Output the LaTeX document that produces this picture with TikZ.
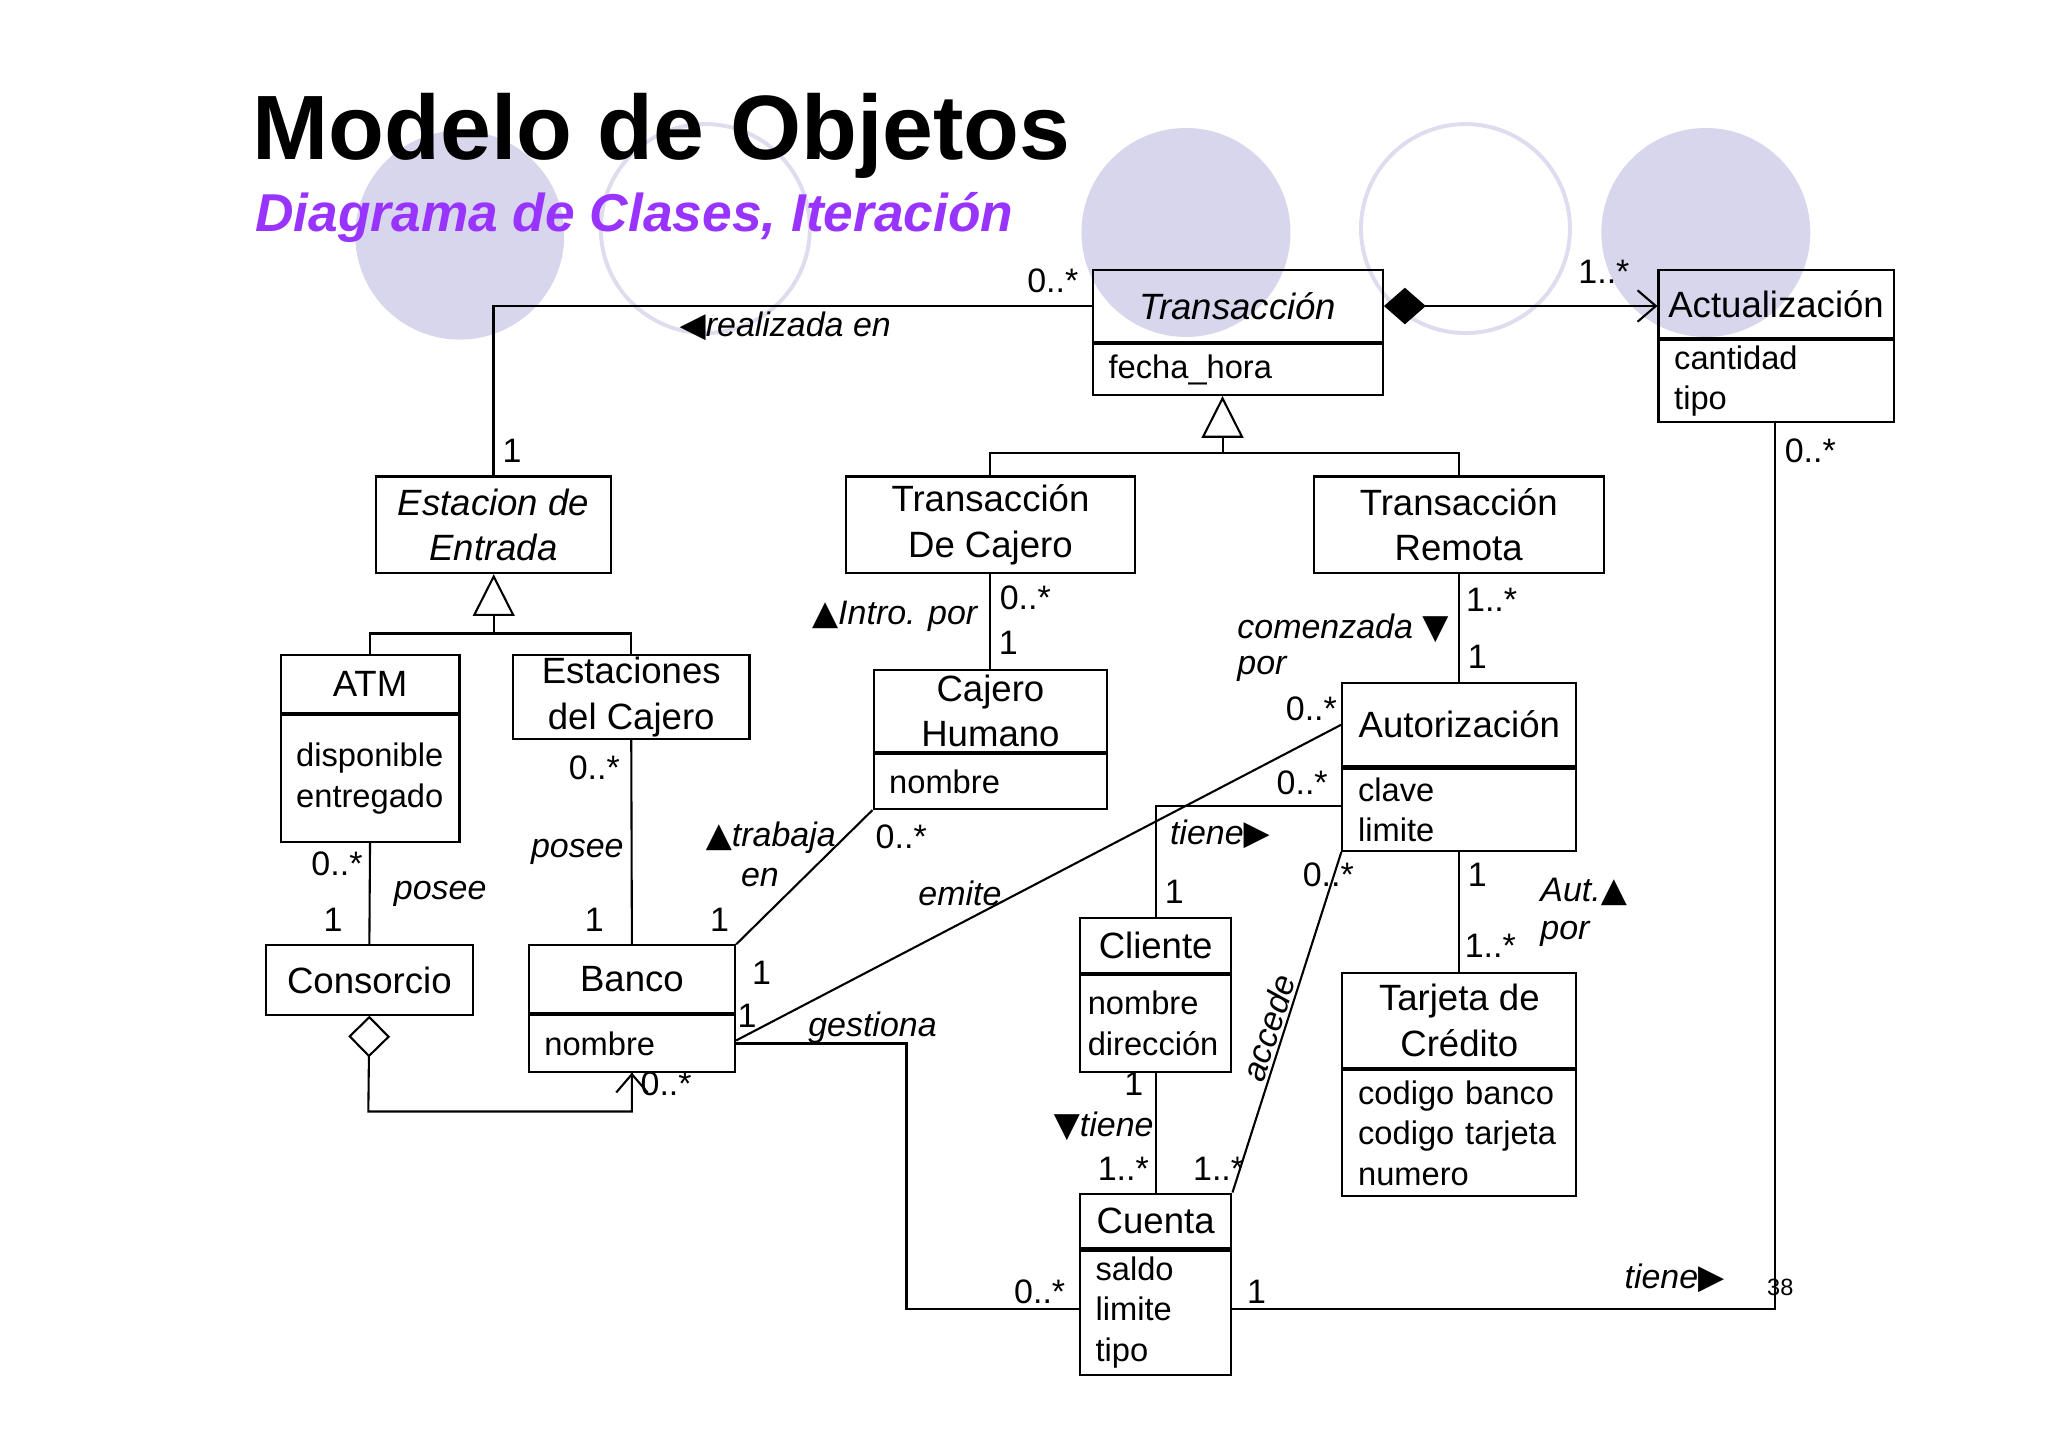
\documentclass[tikz,border=0pt]{standalone}
\usepackage{fontspec}
\setmainfont{Liberation Sans}
\newfontfamily\symf{DejaVu Sans}
\usetikzlibrary{arrows.meta}
\definecolor{lav}{RGB}{216,214,236}
\definecolor{lavline}{RGB}{222,220,238}
\definecolor{subpurple}{RGB}{153,51,255}
\newcommand{\up}{{\symf\char"25B2}}
\newcommand{\dn}{{\symf\char"25BC}}
\newcommand{\rt}{{\symf\char"25B6}}
\newcommand{\lf}{{\symf\char"25C0}}
\tikzset{
  cls/.style={draw, line width=0.8pt, inner sep=0pt, align=center, anchor=north west,
    font=\fontsize{14}{17.5}\selectfont},
  attr/.style={draw, line width=0.8pt, inner xsep=6pt, inner ysep=0pt, align=left, anchor=north,
    font=\fontsize{12.5}{15.5}\selectfont},
  lab/.style={inner sep=1pt, font=\fontsize{13}{15.5}\selectfont\itshape},
  mult/.style={inner sep=1pt, font=\fontsize{13}{15.5}\selectfont},
  conn/.style={line width=0.8pt}
}
\begin{document}
\begin{tikzpicture}[x=0.5pt, y=-0.5pt]
	\useasboundingbox[fill=white] (0,0) rectangle (1568,1108);

	%% decoration
	\fill[lav] (352,180) circle[radius=40pt];
	\draw[lavline, line width=1.5pt] (540,175) circle[radius=40pt];
	\fill[lav] (908,178) circle[radius=40pt];
	\draw[lavline, line width=1.5pt] (1122,175) circle[radius=40pt];
	\fill[lav] (1306,178) circle[radius=40pt];

	%% titles
	\node[anchor=base west, inner sep=0pt, font=\fontsize{35}{40}\selectfont\bfseries] (title) at (193,122) {Modelo de Objetos};
	\node[anchor=base west, inner sep=0pt, font=\fontsize{20.4}{24}\selectfont\bfseries\itshape, text=subpurple] (subtitle) at (195,177) {Diagrama de Clases, Iteración};
	\node[mult, font=\fontsize{9}{10}\selectfont] (page) at (1363,986) {38};

	%% classes
	\node[cls, minimum width=111pt, minimum height=27.5pt] (tr) at (836,206) {\itshape Transacción};
	\node[attr, text width=99pt, minimum height=19.5pt] (trA) at (tr.south) {fecha\_hora};
	\node[cls, minimum width=90pt, minimum height=26pt] (act) at (1269,206) {Actualización};
	\node[attr, text width=78pt, minimum height=31.5pt] (actA) at (act.south) {cantidad\\tipo};
	\node[cls, minimum width=90pt, minimum height=37pt] (est) at (287,364) {\itshape Estacion de\\\itshape Entrada};
	\node[cls, minimum width=110.5pt, minimum height=37pt] (tcj) at (647,364) {Transacción\\De Cajero};
	\node[cls, minimum width=111pt, minimum height=37pt] (trm) at (1005,364) {Transacción\\Remota};
	\node[cls, minimum width=68.5pt, minimum height=22pt] (atm) at (214,501) {ATM};
	\node[attr, text width=56.5pt, minimum height=48.5pt] (atmA) at (atm.south) {disponible\\entregado};
	\node[cls, minimum width=90.5pt, minimum height=32pt] (ecj) at (392,501) {Estaciones\\del Cajero};
	\node[cls, minimum width=89.5pt, minimum height=31.5pt] (chu) at (668,512) {Cajero\\Humano};
	\node[attr, text width=77.5pt, minimum height=21pt] (chuA) at (chu.south) {nombre};
	\node[cls, minimum width=89.5pt, minimum height=32pt] (aut) at (1027,522) {Autorización};
	\node[attr, text width=77.5pt, minimum height=31.5pt] (autA) at (aut.south) {clave\\limite};
	\node[cls, minimum width=79pt, minimum height=26.5pt] (con) at (203,723) {Consorcio};
	\node[cls, minimum width=79pt, minimum height=26pt] (ban) at (404,723) {Banco};
	\node[attr, text width=67pt, minimum height=21.5pt] (banA) at (ban.south) {nombre};
	\node[cls, minimum width=58pt, minimum height=21pt] (cli) at (826,702) {Cliente};
	\node[attr, text width=52pt, inner xsep=3pt, minimum height=37pt] (cliA) at (cli.south) {nombre\\dirección};
	\node[cls, minimum width=89.5pt, minimum height=36.5pt] (tjc) at (1027,744) {Tarjeta de\\Crédito};
	\node[attr, text width=81.5pt, inner xsep=4pt, minimum height=48pt] (tjcA) at (tjc.south) {\hspace*{2pt}codigo banco\\\hspace*{2pt}codigo tarjeta\\\hspace*{2pt}numero};
	\node[cls, minimum width=58pt, minimum height=21pt] (cta) at (826,913) {Cuenta};
	\node[attr, text width=46pt, minimum height=47.5pt] (ctaA) at (cta.south) {saldo\\limite\\tipo};

	%% generalizations
	\coordinate (g1) at (936,347);
	\draw[conn] (tcj.north) |- (g1) -| (trm.north);
	\draw[conn, -{Triangle[open, length=16pt, width=16pt]}] (g1) -- (g1 |- trA.south);
	\coordinate (g2) at (378,485);
	\draw[conn] (atm.north) |- (g2) -| (ecj.north);
	\draw[conn, -{Triangle[open, length=16pt, width=16pt]}] (g2) -- (g2 |- est.south);

	%% associations
	\draw[conn] (tr.west) -| (est.north);
	\draw[conn, {Diamond[fill=black, length=16pt, width=14pt]}-{Straight Barb[length=7pt, width=12pt]}] (tr.east) -- (tr.east -| act.west);
	\draw[conn] (atmA.south) -- (con.north);
	\draw[conn] (ecj.south) -- (ban.north);
	\coordinate (c1) at (282,851);
	\draw[conn, {Diamond[open, length=16pt, width=16pt]}-] (con.south) -- (c1) -| (banA.south);
	\draw[conn, -{Straight Barb[length=7pt, width=12pt]}] (c1 -| banA.south) -- (banA.south);
	\draw[conn] (tcj.south) -- (tcj.south |- chu.north);
	\draw[conn] (chuA.south west) -- (ban.north east);
	\draw[conn] (ban.south east) ++(0,20) coordinate (b1) -- (aut.west);
	\draw[conn] (trm.south) -- (trm.south |- aut.north);
	\coordinate (a1) at (1027,617);
	\draw[conn] (a1) -| (cli.north);
	\draw[conn] (autA.south) -- (tjc.north);
	\draw[conn] (autA.south west) -- node[lab, sloped, above, pos=0.53] {accede} (cta.north east);
	\draw[conn] (cliA.south) -- (cta.north);
	\coordinate (d1) at (694,1002);
	\draw[conn] (banA.east) -| (d1) -- (d1 -| ctaA.west);
	\coordinate (d2) at (1359,1002);
	\draw[conn] (d2 -| ctaA.east) -- (d2) -- (actA.south -| d2);

	%% labels
	\node[mult] (m1) at (806,215) {0..*};
	\node[mult] (m2) at (392,345) {1};
	\node[lab, anchor=west] (l1) at (518,250) {\lf realizada en};
	\node[mult] (m3) at (1228,208) {1..*};
	\node[mult] (m4) at (258,661) {0..*};
	\node[mult] (m5) at (255,704) {1};
	\node[lab] (l2) at (337,684) {posee};
	\node[mult] (m6) at (455,588) {0..*};
	\node[lab] (l3) at (442,652) {posee};
	\node[mult] (m7) at (455,704) {1};
	\node[mult] (m8) at (510,830) {0..*};
	\node[mult] (m9) at (785,458) {0..*};
	\node[mult] (m10) at (772,492) {1};
	\node[lab] (l4) at (685,472) {\up Intro. por};
	\node[lab, anchor=west] (l5) at (538,641) {\up trabaja};
	\node[lab, anchor=west] (l5b) at (565,672) {en};
	\node[mult] (m11) at (690,641) {0..*};
	\node[mult] (m12) at (551,704) {1};
	\node[lab] (l6) at (735,684) {emite};
	\node[mult] (m13) at (583,745) {1};
	\node[mult] (m14) at (1004,543) {0..*};
	\node[mult] (m15) at (1142,459) {1..*};
	\node[mult] (m16) at (1131,503) {1};
	\node[lab, anchor=west] (l7) at (945,481) {comenzada \dn};
	\node[lab, anchor=west] (l7b) at (945,512) {por};
	\node[mult] (m17) at (997,599) {0..*};
	\node[lab] (l8) at (934,639) {tiene\rt};
	\node[mult] (m18) at (899,683) {1};
	\node[mult] (m19) at (1131,670) {1};
	\node[mult] (m20) at (1141,724) {1..*};
	\node[lab, anchor=west] (l9) at (1177,683) {Aut.\up};
	\node[lab, anchor=west] (l9b) at (1177,715) {por};
	\node[mult] (m21) at (1017,670) {0..*};
	\node[mult] (m22) at (933,895) {1..*};
	\node[mult] (m23) at (868,830) {1};
	\node[lab] (l10) at (845,862) {\dn tiene};
	\node[mult] (m24) at (860,895) {1..*};
	\node[mult] (m25) at (572,778) {1};
	\node[lab] (l11) at (668,787) {gestiona};
	\node[mult] (m26) at (796,989) {0..*};
	\node[mult] (m27) at (962,989) {1};
	\node[lab] (l12) at (1282,979) {tiene\rt};
	\node[mult] (m28) at (1386,345) {0..*};

\end{tikzpicture}
\end{document}
